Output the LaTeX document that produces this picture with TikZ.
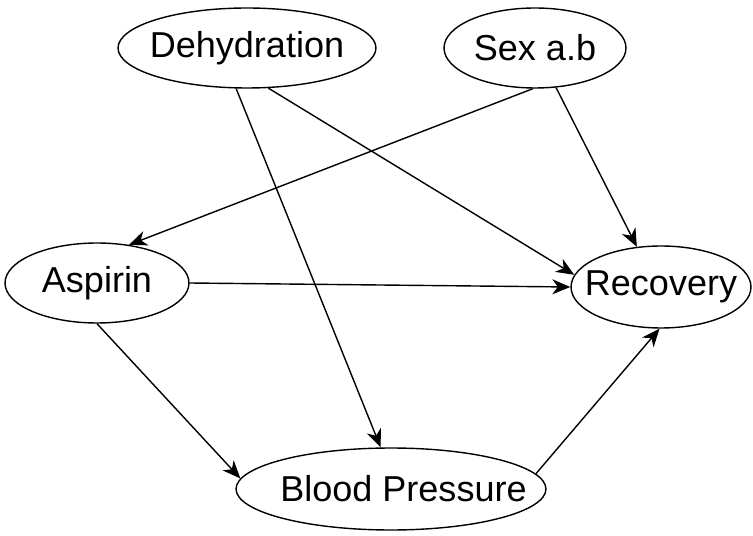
\documentclass[tikz,border=0pt]{standalone}
\usepackage{fontspec}
\setmainfont{Liberation Sans}
\usepackage{tikz}
\usetikzlibrary{arrows.meta, shapes.geometric}

\begin{document}
\begin{tikzpicture}[
  x=0.02cm, y=-0.02cm,
  var/.style={draw=black, fill=white, ellipse, line width=0.8pt, inner sep=0pt,
              font=\fontsize{20.5}{24}\selectfont},
  link/.style={-{Stealth[length=3.6mm, width=3mm, inset=1.1mm]}, line width=0.8pt, draw=black}
]
\useasboundingbox (0,0) rectangle (753,536);

% variables
\node[var, minimum width=5.16cm, minimum height=1.6cm]  (dehy) at (247,48)  {\makebox[0pt]{Dehydration}};
\node[var, minimum width=3.64cm, minimum height=1.6cm]  (sex)  at (535,48)  {\makebox[0pt]{Sex a.b}};
\node[var, minimum width=3.68cm, minimum height=1.6cm]  (asp)  at (97,283)  {\makebox[0pt]{Aspirin}};
\node[var, minimum width=3.6cm,  minimum height=1.64cm] (rec)  at (661,287) {\makebox[0pt]{Recovery}};
\node[var, minimum width=6.2cm,  minimum height=1.64cm] (bp)   at (391,489) {\makebox[0pt]{\hspace{0.5cm}Blood Pressure}};

% causal links
\draw[link] (dehy.-62)  -- (rec.172);
\draw[link] (dehy.-105) -- (bp.104);
\draw[link] (sex.-93)   -- (asp.50);
\draw[link] (sex.-62)   -- (rec.121);
\draw[link] (asp.east)  -- (rec.west);
\draw[link] (asp.south) -- (bp.176);
\draw[link] (bp.6)      -- (rec.-92);
\end{tikzpicture}
\end{document}
